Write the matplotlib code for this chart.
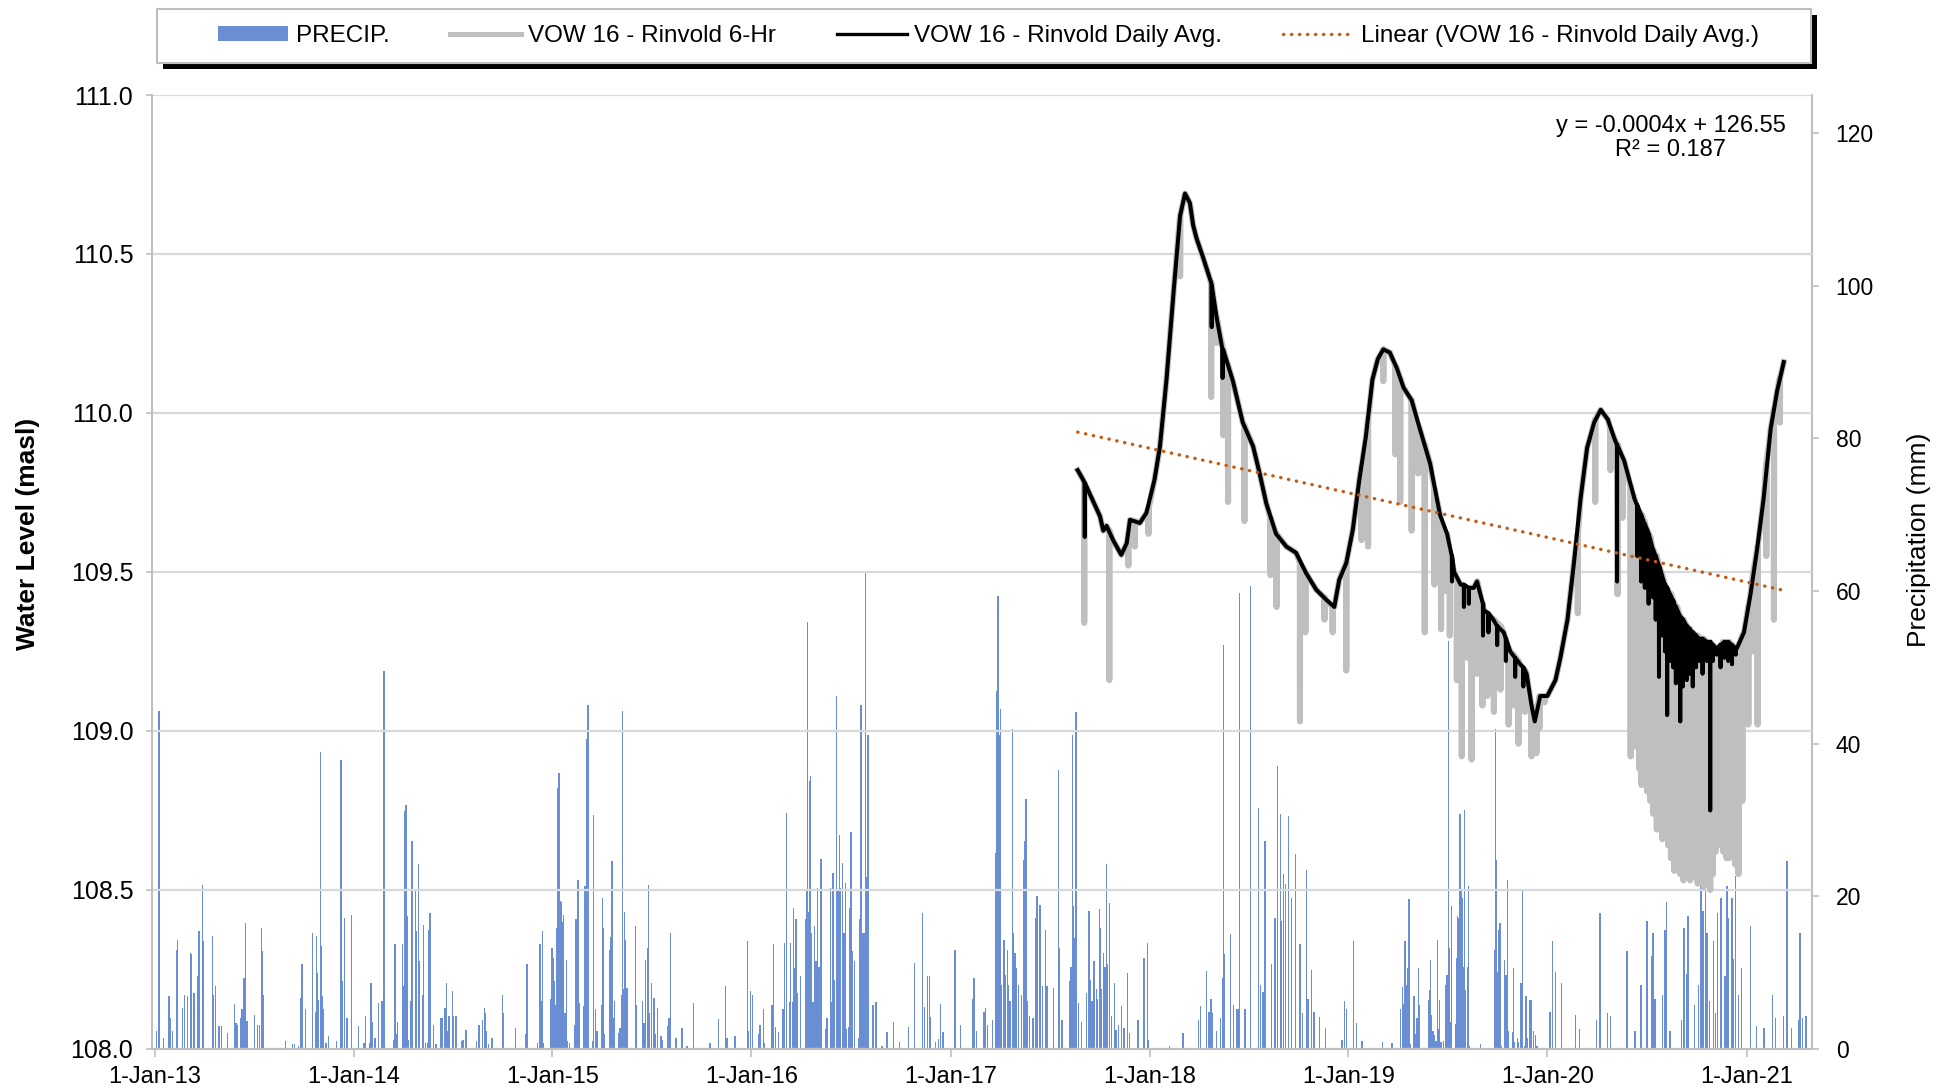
import numpy as np
import pandas as pd
import matplotlib
matplotlib.use("Agg")
import matplotlib.pyplot as plt
import matplotlib.dates as mdates
import matplotlib.ticker as mticker
from matplotlib.patches import Rectangle, Patch
from matplotlib.lines import Line2D

plt.rcParams['font.family'] = ['Liberation Sans', 'DejaVu Sans']

# daily precipitation (day of year, mm)
RAIN_2013 = [(3, 2.3), (7, 7.8), (8, 44.3), (16, 1.4), (26, 6.9), (29, 4.1), (33, 2.3), (40, 13.0), (42, 14.3),
             (51, 5.4), (54, 7.1), (60, 6.9), (65, 12.6), (67, 12.4), (72, 7.3), (79, 9.5), (81, 15.4), (82, 3.8),
             (88, 21.5), (90, 14.1), (106, 14.8), (108, 7.1), (111, 8.2), (118, 3.0), (122, 3.0), (134, 2.1),
             (146, 5.9), (149, 3.4), (152, 3.2), (157, 4.1), (160, 5.2), (164, 9.3), (167, 16.5), (169, 3.7),
             (183, 4.5), (189, 3.2), (192, 3.2), (196, 15.9), (198, 12.8), (199, 7.1), (240, 1.0), (253, 0.6),
             (257, 0.6), (264, 0.4), (268, 6.7), (270, 11.1), (277, 5.2), (290, 15.2), (295, 4.8), (297, 14.8),
             (299, 10.0), (301, 6.4), (304, 38.9), (306, 13.5), (308, 7.0), (309, 5.2), (314, 0.8), (319, 1.7),
             (333, 1.0), (342, 37.9), (344, 8.9), (348, 17.2), (353, 4.1), (354, 3.7), (361, 17.6)]
RAIN_2014 = [(9, 3.0), (19, 0.8), (22, 4.3), (29, 0.8), (32, 8.7), (34, 3.6), (39, 1.4), (46, 6.0), (52, 6.3),
             (55, 28.5), (56, 49.5), (73, 1.2), (76, 13.7), (78, 1.9), (81, 3.6), (90, 13.7), (92, 8.2), (94, 31.2),
             (96, 32.0), (98, 17.4), (100, 1.2), (104, 6.3), (107, 27.2), (113, 8.2), (114, 20.9), (115, 15.4),
             (119, 24.2), (121, 11.5), (126, 7.1), (128, 16.3), (132, 0.8), (136, 0.8), (137, 15.6), (140, 17.8),
             (141, 11.5), (147, 3.2), (151, 0.6), (160, 4.1), (162, 4.1), (167, 4.7), (168, 5.4), (171, 8.7),
             (173, 2.3), (175, 4.3), (181, 7.6), (183, 4.3), (188, 4.3), (198, 1.0), (201, 1.2), (205, 2.3),
             (206, 2.5), (225, 1.0), (230, 3.2), (237, 3.8), (240, 5.4), (242, 4.7), (244, 2.3), (248, 0.6),
             (254, 1.4), (273, 7.1), (274, 4.7), (297, 2.8), (316, 1.9), (318, 11.1), (337, 0.8), (342, 13.7),
             (344, 6.3), (347, 15.4), (349, 0.8), (362, 6.5), (364, 13.2)]
RAIN_2015 = [(1, 11.9), (3, 8.9), (5, 5.8), (7, 15.9), (9, 5.6), (10, 34.2), (12, 36.2), (14, 19.4), (16, 19.2),
             (18, 16.7), (20, 17.6), (23, 4.7), (26, 11.7), (27, 1.0), (31, 0.8), (41, 3.2), (43, 17.0), (45, 7.6),
             (47, 22.2), (49, 6.0), (57, 5.6), (60, 21.3), (63, 40.6), (65, 45.1), (66, 18.0), (73, 1.0), (75, 30.7),
             (79, 5.2), (82, 2.3), (90, 5.8), (92, 19.8), (94, 15.9), (96, 1.9), (105, 13.0), (107, 14.7),
             (109, 24.6), (111, 4.1), (114, 6.3), (122, 2.1), (124, 2.8), (127, 7.1), (128, 44.3), (130, 7.8),
             (132, 18.0), (134, 14.3), (137, 8.0), (152, 16.1), (154, 5.8), (165, 6.3), (168, 3.4), (171, 11.7),
             (174, 13.2), (176, 21.5), (178, 4.7), (182, 8.7), (186, 6.7), (189, 1.9), (193, 5.4), (199, 1.7),
             (202, 1.2), (211, 3.0), (214, 4.1), (217, 15.2), (227, 1.4), (237, 2.7), (239, 2.8), (247, 0.4),
             (259, 6.0), (289, 0.8), (305, 3.9), (318, 8.3), (320, 1.5), (335, 1.7), (358, 14.1), (360, 2.3),
             (364, 7.6)]
RAIN_2016 = [(2, 7.1), (13, 1.9), (16, 3.2), (22, 5.3), (24, 0.8), (38, 5.7), (41, 13.7), (44, 2.9), (50, 2.2),
             (58, 5.3), (61, 13.9), (64, 30.9), (65, 7.9), (70, 6.2), (72, 13.9), (75, 6.2), (77, 18.5), (79, 10.6),
             (82, 17.0), (85, 7.3), (90, 9.5), (99, 17.0), (101, 20.9), (103, 55.9), (105, 18.0), (107, 35.1),
             (109, 35.8), (111, 15.2), (113, 6.2), (116, 16.1), (119, 11.5), (121, 21.1), (124, 10.8), (128, 24.9),
             (136, 2.6), (139, 4.0), (145, 21.1), (147, 6.2), (150, 23.1), (153, 9.0), (156, 46.2), (159, 20.7),
             (162, 28.0), (164, 21.1), (167, 24.4), (170, 15.2), (173, 21.8), (175, 2.6), (178, 2.9), (180, 18.5),
             (183, 28.4), (185, 12.8), (189, 11.5), (197, 1.5), (199, 17.0), (201, 45.1), (204, 15.2), (207, 15.2),
             (210, 62.4), (212, 22.5), (214, 41.2), (223, 5.7), (229, 6.2), (240, 0.4), (249, 2.2), (261, 3.6),
             (272, 0.9), (288, 2.9), (300, 11.2), (314, 17.8), (318, 5.5), (323, 9.5), (327, 9.5), (329, 4.2),
             (338, 0.9), (344, 1.3), (347, 5.9), (352, 2.2)]
RAIN_2017 = [(8, 13.0), (18, 3.2), (41, 6.5), (43, 9.3), (47, 2.3), (61, 4.9), (64, 5.4), (68, 3.2), (77, 3.8),
             (82, 25.7), (84, 46.9), (87, 59.4), (89, 41.2), (91, 44.5), (93, 8.4), (98, 14.3), (101, 9.7),
             (104, 13.0), (106, 8.4), (109, 6.3), (113, 41.9), (115, 15.2), (118, 12.6), (121, 10.6), (124, 8.4),
             (130, 7.1), (134, 24.8), (136, 27.2), (138, 32.7), (140, 6.3), (144, 4.3), (151, 4.1), (156, 17.2),
             (158, 20.0), (164, 18.9), (168, 8.2), (174, 15.6), (177, 8.2), (189, 8.0), (198, 36.6), (200, 13.2),
             (204, 3.8), (218, 8.9), (221, 10.8), (223, 41.2), (225, 18.7), (228, 14.6), (230, 44.1), (234, 6.0),
             (240, 3.6), (249, 7.3), (254, 18.1), (257, 9.1), (259, 6.3), (263, 11.5), (267, 7.8), (269, 6.5),
             (273, 18.3), (275, 15.9), (277, 7.8), (280, 12.6), (283, 10.8), (286, 24.2), (288, 11.1), (291, 19.1),
             (295, 4.3), (300, 8.7), (303, 2.5), (308, 3.2), (313, 5.6), (318, 2.8), (324, 10.0), (328, 2.1),
             (344, 3.8), (355, 11.9), (361, 13.9), (363, 1.2)]
RAIN_2018 = [(36, 0.4), (61, 2.1), (90, 3.8), (93, 5.6), (104, 10.2), (109, 4.9), (113, 6.5), (115, 4.7),
             (123, 2.3), (130, 4.1), (134, 9.3), (136, 52.9), (138, 12.4), (149, 15.0), (154, 5.8), (159, 5.2),
             (162, 5.2), (165, 59.8), (175, 5.2), (185, 60.7), (200, 31.6), (203, 8.4), (208, 7.5), (212, 27.3),
             (224, 11.1), (230, 17.2), (235, 37.1), (240, 30.8), (242, 16.8), (246, 22.9), (249, 21.6), (255, 30.5),
             (260, 19.8), (268, 25.5), (276, 13.7), (281, 4.7), (288, 23.5), (291, 6.6), (297, 10.4), (302, 4.9),
             (312, 4.2), (323, 2.8), (353, 1.2), (358, 6.3), (361, 5.2)]
RAIN_2019 = [(9, 14.1), (15, 3.4), (25, 1.0), (63, 0.9), (80, 0.8), (95, 3.5), (96, 5.3), (99, 8.1), (101, 5.9),
             (104, 14.1), (107, 8.4), (109, 10.6), (111, 19.6), (113, 0.7), (120, 7.0), (122, 2.0), (126, 4.0),
             (128, 10.6), (130, 5.7), (147, 6.4), (149, 7.7), (151, 11.7), (153, 4.4), (155, 2.4), (158, 1.8),
             (161, 1.1), (164, 14.3), (166, 2.6), (167, 6.4), (170, 0.9), (174, 1.1), (179, 8.4), (181, 9.7),
             (184, 53.5), (186, 13.2), (188, 3.5), (189, 18.7), (196, 3.3), (199, 11.9), (200, 17.4), (203, 17.2),
             (205, 30.8), (207, 20.9), (209, 19.8), (211, 10.8), (213, 31.3), (215, 7.7), (218, 10.8), (220, 21.4),
             (222, 0.4), (242, 0.6), (268, 13.0), (270, 41.9), (271, 24.7), (274, 10.1), (276, 15.6), (278, 16.5),
             (280, 0.4), (287, 11.7), (289, 9.7), (292, 22.2), (294, 2.4), (301, 2.2), (303, 10.6), (305, 0.9),
             (310, 1.5), (312, 0.9), (317, 8.6), (319, 20.9), (320, 5.3), (323, 0.4), (326, 7.0), (328, 1.5),
             (333, 6.4), (335, 6.4), (340, 2.4), (343, 1.8), (346, 0.4)]
RAIN_2020 = [(5, 4.8), (9, 14.1), (15, 10.1), (26, 8.6), (52, 4.4), (59, 2.6), (90, 3.8), (97, 17.8), (110, 4.7),
             (116, 4.3), (146, 12.8), (161, 2.3), (172, 8.4), (183, 16.8), (191, 12.2), (194, 15.2), (198, 6.6),
             (211, 7.1), (216, 15.6), (219, 19.2), (225, 2.3), (246, 3.8), (251, 15.9), (255, 9.8), (258, 17.4),
             (270, 5.8), (277, 8.4), (282, 21.6), (286, 18.1), (290, 28.1), (293, 15.2), (298, 6.3), (305, 14.1),
             (309, 4.7), (312, 17.8), (319, 19.8), (326, 9.5), (330, 21.3), (333, 17.2), (339, 19.8), (342, 11.8),
             (346, 22.7), (351, 7.1), (356, 10.6)]
RAIN_2021 = [(7, 16.1), (18, 3.0), (32, 2.8), (47, 7.1), (53, 4.1), (67, 4.3), (74, 24.6), (82, 2.8), (95, 3.8),
             (98, 15.2), (103, 4.1), (109, 4.3)]
RAIN_BY_YEAR = {2013: RAIN_2013, 2014: RAIN_2014, 2015: RAIN_2015, 2016: RAIN_2016, 2017: RAIN_2017,
                2018: RAIN_2018, 2019: RAIN_2019, 2020: RAIN_2020, 2021: RAIN_2021}

# VOW 16 - Rinvold daily average water level (masl)
LEVEL_DATES = ['2017-08-22', '2017-09-01', '2017-09-12', '2017-10-02', '2017-10-08', '2017-10-14', '2017-10-26',
               '2017-11-10', '2017-11-20', '2017-11-26', '2017-12-14', '2017-12-26', '2018-01-10', '2018-01-20',
               '2018-02-01', '2018-02-14', '2018-02-26', '2018-03-07', '2018-03-16', '2018-03-22', '2018-03-28',
               '2018-04-09', '2018-04-24', '2018-05-04', '2018-05-16', '2018-06-03', '2018-06-21', '2018-07-10',
               '2018-07-22', '2018-08-03', '2018-08-21', '2018-09-09', '2018-09-27', '2018-10-15', '2018-11-03',
               '2018-11-21', '2018-12-06', '2018-12-15', '2018-12-28', '2019-01-09', '2019-01-21', '2019-02-02',
               '2019-02-14', '2019-02-24', '2019-03-06', '2019-03-18', '2019-03-31', '2019-04-12', '2019-04-27',
               '2019-05-12', '2019-05-31', '2019-06-18', '2019-07-01', '2019-07-14', '2019-07-26', '2019-08-19',
               '2019-08-25', '2019-09-06', '2019-09-24', '2019-10-13', '2019-10-25', '2019-11-12', '2019-11-24',
               '2019-12-03', '2019-12-09', '2019-12-19', '2020-01-01', '2020-01-16', '2020-01-25', '2020-02-07',
               '2020-02-19', '2020-03-02', '2020-03-14', '2020-03-27', '2020-04-08', '2020-04-21', '2020-05-03',
               '2020-05-21', '2020-06-09', '2020-07-03', '2020-07-28', '2020-08-21', '2020-09-21', '2020-10-21',
               '2020-11-08', '2020-11-26', '2020-12-14', '2020-12-27', '2021-01-08', '2021-01-20', '2021-02-01',
               '2021-02-14', '2021-02-26', '2021-03-10']
LEVEL_DAILY = [109.82, 109.79, 109.75, 109.675, 109.63, 109.645, 109.60, 109.554, 109.59, 109.664, 109.654,
               109.685, 109.79, 109.895, 110.105, 110.38, 110.62, 110.69, 110.66, 110.59, 110.55, 110.49, 110.41,
               110.30, 110.20, 110.10, 109.97, 109.895, 109.81, 109.717, 109.62, 109.58, 109.56, 109.497, 109.444,
               109.413, 109.39, 109.475, 109.528, 109.633, 109.79, 109.926, 110.105, 110.17, 110.20, 110.19, 110.14,
               110.08, 110.04, 109.95, 109.84, 109.68, 109.62, 109.50, 109.46, 109.45, 109.47, 109.38, 109.35,
               109.31, 109.25, 109.21, 109.18, 109.08, 109.03, 109.11, 109.11, 109.16, 109.23, 109.35, 109.53,
               109.73, 109.89, 109.97, 110.01, 109.98, 109.92, 109.85, 109.73, 109.63, 109.50, 109.40, 109.31,
               109.28, 109.26, 109.28, 109.26, 109.31, 109.43, 109.57, 109.73, 109.95, 110.07, 110.16]

# daily average readings that fell below the curve: (date, level around it, low)
DAILY_DROPS = [('2017-09-04', 109.78, 109.61), ('2018-04-25', 110.40, 110.27), ('2018-05-15', 110.20, 110.11),
               ('2019-07-10', 109.55, 109.47), ('2019-08-01', 109.46, 109.39), ('2019-08-10', 109.45, 109.40),
               ('2019-09-05', 109.40, 109.30), ('2019-09-15', 109.37, 109.31), ('2019-10-01', 109.33, 109.27),
               ('2019-10-17', 109.29, 109.22), ('2019-11-03', 109.23, 109.17), ('2019-11-18', 109.20, 109.14),
               ('2020-05-08', 109.90, 109.47), ('2020-06-14', 109.71, 109.55), ('2020-06-21', 109.68, 109.47),
               ('2020-06-28', 109.65, 109.45), ('2020-07-05', 109.62, 109.40), ('2020-07-13', 109.57, 109.42),
               ('2020-07-18', 109.55, 109.35), ('2020-07-24', 109.52, 109.17), ('2020-07-29', 109.49, 109.30),
               ('2020-08-04', 109.46, 109.25), ('2020-08-08', 109.45, 109.05), ('2020-08-13', 109.43, 109.22),
               ('2020-08-19', 109.41, 109.20), ('2020-08-24', 109.39, 109.15), ('2020-09-01', 109.36, 109.03),
               ('2020-09-06', 109.35, 109.14), ('2020-09-13', 109.33, 109.16), ('2020-09-19', 109.32, 109.18),
               ('2020-09-24', 109.31, 109.14), ('2020-09-30', 109.30, 109.20), ('2020-10-05', 109.29, 109.22),
               ('2020-10-12', 109.29, 109.18), ('2020-10-20', 109.28, 109.22), ('2020-10-26', 109.28, 108.75),
               ('2020-10-31', 109.27, 109.22), ('2020-11-07', 109.26, 109.24), ('2020-11-14', 109.27, 109.20),
               ('2020-11-21', 109.28, 109.23), ('2020-11-28', 109.28, 109.22), ('2020-12-05', 109.27, 109.21),
               ('2020-12-12', 109.26, 109.24)]

# 6-hr readings that dropped below the daily curve: (date, level around it, low)
SIXHR_DROPS = [('2017-09-03', 109.78, 109.34), ('2017-10-19', 109.63, 109.16), ('2017-11-23', 109.62, 109.52),
               ('2017-12-05', 109.66, 109.58), ('2017-12-30', 109.70, 109.62), ('2018-02-26', 110.62, 110.43),
               ('2018-04-24', 110.41, 110.05), ('2018-05-04', 110.30, 110.22), ('2018-05-16', 110.20, 109.93),
               ('2018-05-25', 110.15, 109.72), ('2018-06-24', 109.96, 109.66), ('2018-08-11', 109.67, 109.49),
               ('2018-08-22', 109.62, 109.39), ('2018-10-04', 109.53, 109.03), ('2018-10-14', 109.50, 109.31),
               ('2018-11-18', 109.42, 109.35), ('2018-12-03', 109.39, 109.31), ('2018-12-28', 109.53, 109.19),
               ('2019-01-25', 109.83, 109.60), ('2019-02-06', 109.98, 109.58), ('2019-03-06', 110.20, 110.10),
               ('2019-03-28', 110.15, 109.87), ('2019-04-06', 110.11, 109.72), ('2019-04-27', 110.04, 109.63),
               ('2019-05-09', 109.96, 109.81), ('2019-05-21', 109.90, 109.31), ('2019-06-08', 109.76, 109.46),
               ('2019-06-20', 109.66, 109.32), ('2019-06-29', 109.62, 109.44), ('2019-07-06', 109.56, 109.30),
               ('2019-07-19', 109.48, 109.16), ('2019-07-28', 109.46, 108.92), ('2019-08-07', 109.45, 109.23),
               ('2019-08-15', 109.45, 108.91), ('2019-08-25', 109.47, 109.18), ('2019-09-04', 109.40, 109.08),
               ('2019-09-13', 109.37, 109.11), ('2019-09-25', 109.35, 109.06), ('2019-10-07', 109.33, 109.13),
               ('2019-10-22', 109.26, 109.02), ('2019-10-31', 109.24, 109.08), ('2019-11-09', 109.22, 108.96),
               ('2019-11-21', 109.19, 109.06), ('2019-12-03', 109.08, 108.92), ('2019-12-12', 109.06, 108.93),
               ('2019-12-18', 109.11, 109.01), ('2019-12-27', 109.11, 109.09), ('2020-02-26', 109.62, 109.37),
               ('2020-03-29', 109.98, 109.72), ('2020-04-26', 109.95, 109.82), ('2020-05-09', 109.90, 109.43),
               ('2020-05-18', 109.86, 109.67), ('2020-06-02', 109.77, 108.92), ('2020-06-07', 109.74, 109.05),
               ('2020-06-12', 109.71, 108.95), ('2020-06-18', 109.69, 108.88), ('2020-06-22', 109.68, 108.83),
               ('2020-06-27', 109.66, 108.90), ('2020-07-02', 109.63, 108.81), ('2020-07-08', 109.61, 108.78),
               ('2020-07-13', 109.57, 108.74), ('2020-07-20', 109.55, 108.69), ('2020-07-24', 109.52, 108.72),
               ('2020-07-30', 109.49, 108.66), ('2020-08-04', 109.46, 108.68), ('2020-08-10', 109.44, 108.64),
               ('2020-08-15', 109.43, 108.60), ('2020-08-21', 109.40, 108.56), ('2020-08-26', 109.39, 108.58),
               ('2020-09-01', 109.36, 108.55), ('2020-09-07', 109.35, 108.53), ('2020-09-13', 109.33, 108.56),
               ('2020-09-19', 109.32, 108.53), ('2020-09-24', 109.31, 108.55), ('2020-09-28', 109.30, 108.54),
               ('2020-10-03', 109.30, 108.52), ('2020-10-09', 109.29, 108.55), ('2020-10-14', 109.29, 108.51),
               ('2020-10-20', 109.28, 108.53), ('2020-10-26', 109.28, 108.50), ('2020-10-31', 109.27, 108.55),
               ('2020-11-05', 109.26, 108.62), ('2020-11-09', 109.26, 108.64), ('2020-11-14', 109.27, 108.80),
               ('2020-11-19', 109.28, 108.62), ('2020-11-25', 109.28, 108.60), ('2020-11-30', 109.28, 108.60),
               ('2020-12-05', 109.27, 108.70), ('2020-12-11', 109.26, 108.58), ('2020-12-17', 109.27, 108.55),
               ('2020-12-24', 109.30, 108.78), ('2021-01-04', 109.39, 109.02), ('2021-01-13', 109.50, 109.25),
               ('2021-01-21', 109.58, 109.02), ('2021-02-06', 109.84, 109.55), ('2021-02-20', 110.01, 109.35),
               ('2021-03-03', 110.11, 109.97)]

# Excel linear trendline on the daily average (x = Excel date serial)
TREND_SLOPE = -0.000384
TREND_INTERCEPT = 126.44
TREND_RANGE = ('2017-08-22', '2021-03-10')
TREND_LABEL = 'y = -0.0004x + 126.55\nR² = 0.187'

BLUE = '#6A8ED4'
GREY = '#BFBFBF'
ORANGE = '#C55A11'
GRID = '#D9D9D9'
DOTS = (0, (0.1, 2.3))


def rain_series():
    dates, mm = [], []
    for year, rows in RAIN_BY_YEAR.items():
        for doy, val in rows:
            dates.append(pd.Timestamp(year, 1, 1) + pd.Timedelta(days=doy))
            mm.append(val)
    return pd.to_datetime(dates), np.array(mm)


def with_drops(dates, levels, drops):
    """Add the short downward readings to a level series."""
    t = list(pd.to_datetime(dates))
    v = list(levels)
    half = pd.Timedelta(hours=6)
    for d, top, low in drops:
        d = pd.Timestamp(d)
        t += [d - half, d, d + half]
        v += [top, low, top]
    t = np.array(t, dtype='datetime64[ns]')
    order = np.argsort(t, kind='stable')
    return t[order], np.array(v)[order]


def excel_serial(ts):
    return (pd.to_datetime(ts) - pd.Timestamp('1899-12-30')).days


fig = plt.figure(figsize=(19.42, 10.92), dpi=100)
ax1 = fig.add_axes([0.0783, 0.0394, 0.8548, 0.8736])
ax2 = ax1.twinx()
ax1.set_zorder(2)
ax2.set_zorder(1)
ax1.patch.set_visible(False)

# precipitation bars on the secondary axis
rain_t, rain_mm = rain_series()
ax2.bar(rain_t, rain_mm, width=2.5, color=BLUE, linewidth=0, align='center')
ax2.set_ylim(0, 125)
ax2.set_yticks(np.arange(0, 121, 20))

# water levels
t6, v6 = with_drops(LEVEL_DATES, LEVEL_DAILY, SIXHR_DROPS)
td, vd = with_drops(LEVEL_DATES, LEVEL_DAILY, DAILY_DROPS)
ax1.plot(t6, v6, color=GREY, lw=4.4, solid_joinstyle='round', zorder=3)
ax1.plot(td, vd, color='black', lw=2.9, solid_joinstyle='round', zorder=4)

trend_t = pd.to_datetime(list(TREND_RANGE))
trend_v = TREND_INTERCEPT + TREND_SLOPE * np.array(excel_serial(trend_t))
ax1.plot(trend_t, trend_v, color=ORANGE, lw=2.4, linestyle=DOTS, dash_capstyle='round', zorder=5)

ax1.text(0.915, 0.979, TREND_LABEL, transform=ax1.transAxes, ha='center', va='top',
         multialignment='center', fontsize=17, linespacing=1.1, zorder=6)

# axes
ax1.set_ylim(108.0, 111.0)
ax1.set_yticks(np.arange(108.0, 111.01, 0.5))
ax1.yaxis.set_major_formatter(mticker.FormatStrFormatter('%.1f'))
ax1.set_xlim(pd.Timestamp('2012-12-27'), pd.Timestamp('2021-05-01'))
ax1.xaxis.set_major_locator(mdates.YearLocator())
ax1.xaxis.set_minor_locator(mdates.MonthLocator())
ax1.xaxis.set_major_formatter(mticker.FuncFormatter(
    lambda x, pos: '{}-{}'.format(mdates.num2date(x).day, mdates.num2date(x).strftime('%b-%y'))))

ax2.set_axisbelow(True)
ax2.grid(axis='x', which='major', color=GRID, lw=1.6)
ax2.grid(axis='x', which='minor', color='#EDEDED', lw=1.3)
ax1.grid(axis='y', color=GRID, lw=1.6)
ax1.set_axisbelow(True)

for ax in (ax1, ax2):
    ax.spines['top'].set_visible(False)
ax1.spines['right'].set_visible(False)
ax2.spines['left'].set_visible(False)
ax2.spines['bottom'].set_visible(False)
for sp in (ax1.spines['left'], ax1.spines['bottom'], ax2.spines['right']):
    sp.set_color('#BFBFBF')
    sp.set_linewidth(1.5)

ax1.tick_params(axis='y', labelsize=18, length=4.5, width=1.2, color='#BFBFBF', pad=9)
ax1.tick_params(axis='x', which='major', labelsize=17, length=6, width=1.2, color='#BFBFBF', pad=6)
ax1.tick_params(axis='x', which='minor', length=0)
ax2.tick_params(axis='y', labelsize=16.5, length=5, width=1.2, color='#BFBFBF', pad=12)

ax1.set_ylabel('Water Level (masl)', fontsize=19, fontweight='bold')
ax1.yaxis.set_label_coords(-0.0675, 0.54)
ax2.set_ylabel('Precipitation (mm)', fontsize=19)
ax2.yaxis.set_label_coords(1.0572, 0.534)

# legend with its framed box and hard shadow
handles = [Patch(facecolor=BLUE, edgecolor='none'),
           Line2D([], [], color=GREY, lw=3.6),
           Line2D([], [], color='black', lw=2.4),
           Line2D([], [], color=ORANGE, lw=2.4, linestyle=DOTS, dash_capstyle='round')]
labels = ['PRECIP.', 'VOW 16 - Rinvold 6-Hr', 'VOW 16 - Rinvold Daily Avg.',
          'Linear (VOW 16 - Rinvold Daily Avg.)']
box = (0.0808, 0.9423, 0.8518, 0.0495)
fig.patches.append(Rectangle((box[0] + 0.0031, box[1] - 0.0055), box[2], box[3], transform=fig.transFigure,
                             facecolor='black', edgecolor='none', zorder=3))
fig.patches.append(Rectangle(box[:2], box[2], box[3], transform=fig.transFigure,
                             facecolor='white', edgecolor='#BFBFBF', lw=1.5, zorder=4))
leg = fig.legend(handles, labels, loc='center', bbox_to_anchor=(0.509, 0.967), ncol=4, frameon=False,
                 fontsize=17.5, handlelength=2.9, handletextpad=0.3, columnspacing=2.5, handleheight=0.55)
leg.set_zorder(5)

fig.savefig('out.png', dpi=100)
